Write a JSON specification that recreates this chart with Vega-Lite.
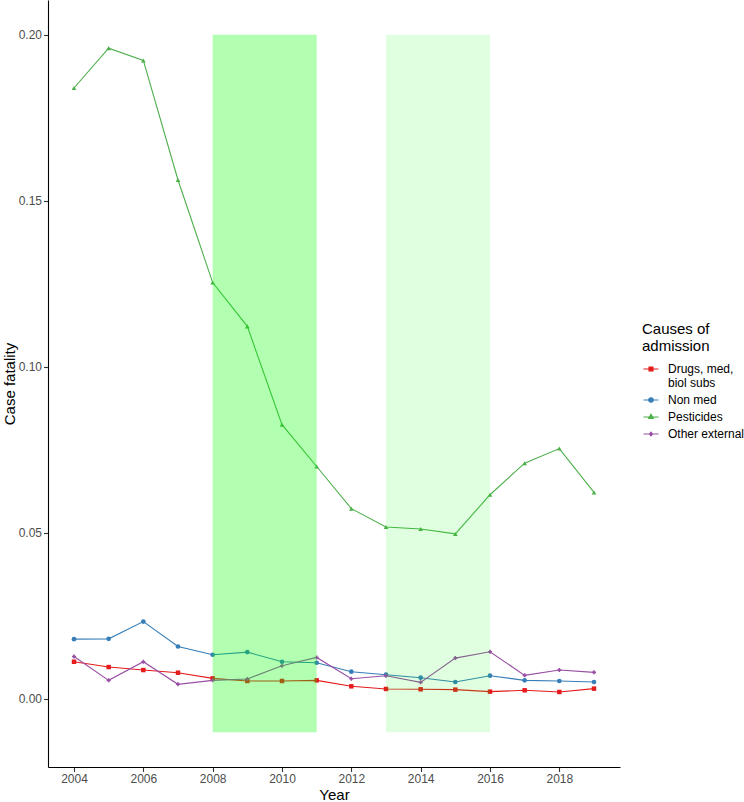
{
  "$schema": "https://vega.github.io/schema/vega-lite/v6.json",
  "width": 572,
  "height": 767,
  "autosize": {"type": "none"},
  "padding": {"left": 48, "top": 0, "right": 124, "bottom": 35},
  "background": "white",
  "config": {
    "font": "Liberation Sans",
    "view": {"stroke": null},
    "axis": {
      "grid": false,
      "domainColor": "#000000",
      "domainWidth": 1.1,
      "tickColor": "#333333",
      "tickWidth": 1.1,
      "tickSize": 4.5,
      "labelColor": "#4D4D4D",
      "labelFontSize": 12,
      "labelPadding": 2,
      "titleFontSize": 15,
      "titleFontWeight": "normal",
      "titleColor": "#000000"
    },
    "legend": {
      "orient": "none",
      "legendX": 594,
      "legendY": 322,
      "padding": 0,
      "titleFontSize": 15,
      "titleFontWeight": "normal",
      "titleColor": "#000000",
      "titleLineHeight": 17,
      "titlePadding": 9,
      "labelFontSize": 12,
      "labelLineHeight": 12,
      "labelColor": "#000000",
      "labelOffset": 11,
      "labelLimit": 200,
      "symbolOffset": 3,
      "rowPadding": 5,
      "symbolSize": 100
    }
  },
  "datasets": {
    "cf": [
      {"Year": 2004, "Cause": "Drugs, med, biol subs", "CaseFatality": 0.0112},
      {"Year": 2005, "Cause": "Drugs, med, biol subs", "CaseFatality": 0.0096},
      {"Year": 2006, "Cause": "Drugs, med, biol subs", "CaseFatality": 0.0087},
      {"Year": 2007, "Cause": "Drugs, med, biol subs", "CaseFatality": 0.0079},
      {"Year": 2008, "Cause": "Drugs, med, biol subs", "CaseFatality": 0.0062},
      {"Year": 2009, "Cause": "Drugs, med, biol subs", "CaseFatality": 0.0054},
      {"Year": 2010, "Cause": "Drugs, med, biol subs", "CaseFatality": 0.0054},
      {"Year": 2011, "Cause": "Drugs, med, biol subs", "CaseFatality": 0.0056},
      {"Year": 2012, "Cause": "Drugs, med, biol subs", "CaseFatality": 0.0038},
      {"Year": 2013, "Cause": "Drugs, med, biol subs", "CaseFatality": 0.0030},
      {"Year": 2014, "Cause": "Drugs, med, biol subs", "CaseFatality": 0.0029},
      {"Year": 2015, "Cause": "Drugs, med, biol subs", "CaseFatality": 0.0028},
      {"Year": 2016, "Cause": "Drugs, med, biol subs", "CaseFatality": 0.0022},
      {"Year": 2017, "Cause": "Drugs, med, biol subs", "CaseFatality": 0.0026},
      {"Year": 2018, "Cause": "Drugs, med, biol subs", "CaseFatality": 0.0021},
      {"Year": 2019, "Cause": "Drugs, med, biol subs", "CaseFatality": 0.0031},
      {"Year": 2004, "Cause": "Non med", "CaseFatality": 0.0180},
      {"Year": 2005, "Cause": "Non med", "CaseFatality": 0.0181},
      {"Year": 2006, "Cause": "Non med", "CaseFatality": 0.0233},
      {"Year": 2007, "Cause": "Non med", "CaseFatality": 0.0158},
      {"Year": 2008, "Cause": "Non med", "CaseFatality": 0.0133},
      {"Year": 2009, "Cause": "Non med", "CaseFatality": 0.0141},
      {"Year": 2010, "Cause": "Non med", "CaseFatality": 0.0112},
      {"Year": 2011, "Cause": "Non med", "CaseFatality": 0.0109},
      {"Year": 2012, "Cause": "Non med", "CaseFatality": 0.0082},
      {"Year": 2013, "Cause": "Non med", "CaseFatality": 0.0073},
      {"Year": 2014, "Cause": "Non med", "CaseFatality": 0.0064},
      {"Year": 2015, "Cause": "Non med", "CaseFatality": 0.0051},
      {"Year": 2016, "Cause": "Non med", "CaseFatality": 0.0070},
      {"Year": 2017, "Cause": "Non med", "CaseFatality": 0.0056},
      {"Year": 2018, "Cause": "Non med", "CaseFatality": 0.0054},
      {"Year": 2019, "Cause": "Non med", "CaseFatality": 0.0051},
      {"Year": 2004, "Cause": "Pesticides", "CaseFatality": 0.1840},
      {"Year": 2005, "Cause": "Pesticides", "CaseFatality": 0.1960},
      {"Year": 2006, "Cause": "Pesticides", "CaseFatality": 0.1923},
      {"Year": 2007, "Cause": "Pesticides", "CaseFatality": 0.1563},
      {"Year": 2008, "Cause": "Pesticides", "CaseFatality": 0.1254},
      {"Year": 2009, "Cause": "Pesticides", "CaseFatality": 0.1122},
      {"Year": 2010, "Cause": "Pesticides", "CaseFatality": 0.0826},
      {"Year": 2011, "Cause": "Pesticides", "CaseFatality": 0.0700},
      {"Year": 2012, "Cause": "Pesticides", "CaseFatality": 0.0573},
      {"Year": 2013, "Cause": "Pesticides", "CaseFatality": 0.0518},
      {"Year": 2014, "Cause": "Pesticides", "CaseFatality": 0.0512},
      {"Year": 2015, "Cause": "Pesticides", "CaseFatality": 0.0497},
      {"Year": 2016, "Cause": "Pesticides", "CaseFatality": 0.0615},
      {"Year": 2017, "Cause": "Pesticides", "CaseFatality": 0.0710},
      {"Year": 2018, "Cause": "Pesticides", "CaseFatality": 0.0754},
      {"Year": 2019, "Cause": "Pesticides", "CaseFatality": 0.0622},
      {"Year": 2004, "Cause": "Other external", "CaseFatality": 0.0128},
      {"Year": 2005, "Cause": "Other external", "CaseFatality": 0.0056},
      {"Year": 2006, "Cause": "Other external", "CaseFatality": 0.0112},
      {"Year": 2007, "Cause": "Other external", "CaseFatality": 0.0044},
      {"Year": 2008, "Cause": "Other external", "CaseFatality": 0.0056},
      {"Year": 2009, "Cause": "Other external", "CaseFatality": 0.0060},
      {"Year": 2010, "Cause": "Other external", "CaseFatality": 0.0100},
      {"Year": 2011, "Cause": "Other external", "CaseFatality": 0.0125},
      {"Year": 2012, "Cause": "Other external", "CaseFatality": 0.0061},
      {"Year": 2013, "Cause": "Other external", "CaseFatality": 0.0070},
      {"Year": 2014, "Cause": "Other external", "CaseFatality": 0.0050},
      {"Year": 2015, "Cause": "Other external", "CaseFatality": 0.0123},
      {"Year": 2016, "Cause": "Other external", "CaseFatality": 0.0142},
      {"Year": 2017, "Cause": "Other external", "CaseFatality": 0.0071},
      {"Year": 2018, "Cause": "Other external", "CaseFatality": 0.0087},
      {"Year": 2019, "Cause": "Other external", "CaseFatality": 0.0080}
    ],
    "p1": [{"start": 2008, "end": 2011, "lo": -0.01, "hi": 0.2}],
    "p2": [{"start": 2013, "end": 2016, "lo": -0.01, "hi": 0.2}]
  },
  "layer": [
    {
      "data": {"name": "cf"},
      "mark": {"type": "line", "strokeWidth": 1.1},
      "encoding": {
        "x": {
          "field": "Year", "type": "quantitative", "title": "Year",
          "scale": {"domain": [2003.25, 2019.75], "nice": false, "zero": false},
          "axis": {"values": [2004, 2006, 2008, 2010, 2012, 2014, 2016, 2018], "format": "d", "titlePadding": 3}
        },
        "y": {
          "field": "CaseFatality", "type": "quantitative", "title": "Case fatality",
          "scale": {"domain": [-0.0205, 0.2105], "nice": false, "zero": false},
          "axis": {"values": [0, 0.05, 0.1, 0.15, 0.2], "format": ".2f", "titlePadding": 1}
        },
        "color": {
          "field": "Cause", "type": "nominal",
          "scale": {
            "domain": ["Drugs, med, biol subs", "Non med", "Pesticides", "Other external"],
            "range": ["#E41A1C", "#377EB8", "#4DAF4A", "#984EA3"]
          },
          "legend": {
            "title": ["Causes of", "admission"],
            "symbolSize": 100,
            "labelExpr": "datum.label == 'Drugs, med, biol subs' ? ['Drugs, med,', 'biol subs'] : datum.label",
            "encode": {
              "symbols": {
                "update": {
                  "shape": {"signal": "datum.value == 'Drugs, med, biol subs' ? 'M-1.5,0H1.5M-0.4,-0.4H0.4V0.4H-0.4Z' : datum.value == 'Non med' ? 'M-1.5,0H1.5M0.45,0A0.45,0.45 0 1 1 -0.45,0A0.45,0.45 0 1 1 0.45,0Z' : datum.value == 'Pesticides' ? 'M-1.5,0H1.5M0,-0.54L0.48,0.3H-0.48Z' : 'M-1.5,0H1.5M0,-0.36L0.3,0L0,0.36L-0.3,0Z'"},
                  "size": {"value": 100},
                  "stroke": {"scale": "color", "field": "value"},
                  "fill": {"scale": "color", "field": "value"},
                  "strokeWidth": {"value": 1.1},
                  "opacity": {"value": 1}
                }
              }
            }
          }
        }
      }
    },
    {
      "data": {"name": "cf"},
      "transform": [{"filter": "datum.Cause == 'Drugs, med, biol subs'"}],
      "mark": {"type": "point", "filled": true, "size": 20, "opacity": 1, "shape": "square"},
      "encoding": {
        "x": {"field": "Year", "type": "quantitative", "title": "Year"},
        "y": {"field": "CaseFatality", "type": "quantitative", "title": "Case fatality"},
        "color": {"field": "Cause", "type": "nominal"}
      }
    },
    {
      "data": {"name": "cf"},
      "transform": [{"filter": "datum.Cause == 'Non med'"}],
      "mark": {"type": "point", "filled": true, "size": 22, "opacity": 1, "shape": "circle"},
      "encoding": {
        "x": {"field": "Year", "type": "quantitative", "title": "Year"},
        "y": {"field": "CaseFatality", "type": "quantitative", "title": "Case fatality"},
        "color": {"field": "Cause", "type": "nominal"}
      }
    },
    {
      "data": {"name": "cf"},
      "transform": [{"filter": "datum.Cause == 'Pesticides'"}],
      "mark": {"type": "point", "filled": true, "size": 22, "opacity": 1, "shape": "triangle-up"},
      "encoding": {
        "x": {"field": "Year", "type": "quantitative", "title": "Year"},
        "y": {"field": "CaseFatality", "type": "quantitative", "title": "Case fatality"},
        "color": {"field": "Cause", "type": "nominal"}
      }
    },
    {
      "data": {"name": "cf"},
      "transform": [{"filter": "datum.Cause == 'Other external'"}],
      "mark": {"type": "point", "filled": true, "size": 16, "opacity": 1, "shape": "cross"},
      "encoding": {
        "x": {"field": "Year", "type": "quantitative", "title": "Year"},
        "y": {"field": "CaseFatality", "type": "quantitative", "title": "Case fatality"},
        "color": {"field": "Cause", "type": "nominal"}
      }
    },
    {
      "data": {"name": "p1"},
      "mark": {"type": "rect", "color": "#00FF00", "opacity": 0.3},
      "encoding": {
        "x": {"field": "start", "type": "quantitative", "title": "Year"},
        "x2": {"field": "end"},
        "y": {"field": "lo", "type": "quantitative", "title": "Case fatality"},
        "y2": {"field": "hi"}
      }
    },
    {
      "data": {"name": "p2"},
      "mark": {"type": "rect", "color": "#00FF00", "opacity": 0.12},
      "encoding": {
        "x": {"field": "start", "type": "quantitative", "title": "Year"},
        "x2": {"field": "end"},
        "y": {"field": "lo", "type": "quantitative", "title": "Case fatality"},
        "y2": {"field": "hi"}
      }
    }
  ]
}
